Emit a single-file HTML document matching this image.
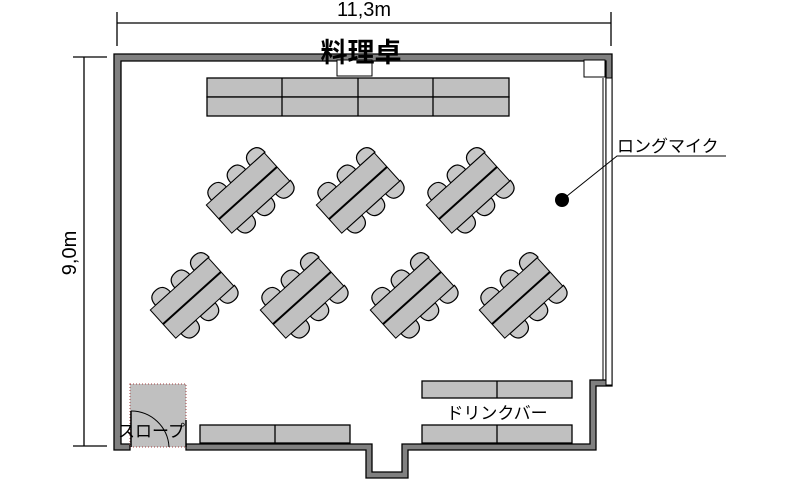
<!DOCTYPE html>
<html><head><meta charset="utf-8"><style>
body{margin:0;background:#fff;}
svg{display:block;font-family:"Liberation Sans","Noto Sans CJK JP",sans-serif;}
</style></head><body>
<svg width="800" height="490" viewBox="0 0 800 490" xmlns="http://www.w3.org/2000/svg">
<defs>
<g id="tg">
  <g fill="#c8c8c8" stroke="#000" stroke-width="1.2">
    <path d="M-32,-19 q0,-11 10,-11 q10,0 10,11z"/>
    <path d="M-6,-19 q0,-11 10,-11 q10,0 10,11z"/>
    <path d="M20,-19 q0,-11 10,-11 q10,0 10,11z"/>
    <path d="M-32,19 q0,11 10,11 q10,0 10,-11z"/>
    <path d="M-6,19 q0,11 10,11 q10,0 10,-11z"/>
    <path d="M20,19 q0,11 10,11 q10,0 10,-11z"/>
  </g>
  <rect x="-39" y="-19" width="78" height="38" fill="#c0c0c0" stroke="#000" stroke-width="1"/>
  <line x1="-39" y1="0" x2="39" y2="0" stroke="#000" stroke-width="2"/>
</g>
</defs>

<g stroke="#000" stroke-width="1.3">
<line x1="117" y1="23" x2="611" y2="23"/>
<line x1="117" y1="12" x2="117" y2="46"/>
<line x1="611" y1="12" x2="611" y2="46"/>
<line x1="84" y1="57" x2="84" y2="446"/>
<line x1="73" y1="57" x2="107" y2="57"/>
<line x1="73" y1="446" x2="107" y2="446"/>
</g>
<text x="364" y="16" font-size="20" text-anchor="middle">11,3m</text>
<text transform="translate(76,253) rotate(-90)" font-size="20" text-anchor="middle">9,0m</text>

<g fill="#808080" stroke="#000" stroke-width="1.3">
<polygon points="114,54 612,54 612,386 596,386 596,450 408,450 408,478 366,478 366,450 186,450 186,444 372,444 372,472 402,472 402,444 590,444 590,380 606,380 606,61 121,61 121,444 130,444 130,450 114,450"/>
</g>
<rect x="584" y="60" width="21" height="17" fill="#fff" stroke="#000" stroke-width="1"/>
<rect x="606" y="78" width="6" height="307" fill="#fff" stroke="#000" stroke-width="1"/>
<line x1="603" y1="78" x2="603" y2="380" stroke="#000" stroke-width="1"/>

<rect x="337" y="60" width="35" height="16" fill="#fff" stroke="#000" stroke-width="1"/>
<text x="361" y="62" font-size="27" font-weight="bold" text-anchor="middle">料理卓</text>

<g fill="#c0c0c0" stroke="#000" stroke-width="1.3">
<rect x="207" y="78" width="302" height="19"/>
<rect x="207" y="97" width="302" height="19"/>
</g>
<g stroke="#000" stroke-width="1.3">
<line x1="282" y1="78" x2="282" y2="116"/>
<line x1="358" y1="78" x2="358" y2="116"/>
<line x1="433" y1="78" x2="433" y2="116"/>
</g>

<use href="#tg" transform="translate(248,193) rotate(-42)"/>
<use href="#tg" transform="translate(358,193) rotate(-42)"/>
<use href="#tg" transform="translate(468,193) rotate(-42)"/>
<use href="#tg" transform="translate(192,298) rotate(-42)"/>
<use href="#tg" transform="translate(302,298) rotate(-42)"/>
<use href="#tg" transform="translate(412,298) rotate(-42)"/>
<use href="#tg" transform="translate(521,298) rotate(-42)"/>

<circle cx="562" cy="200" r="7" fill="#000"/>
<polyline points="562,200 617,156 726,156" fill="none" stroke="#000" stroke-width="1"/>
<text x="617" y="152" font-size="17">ロングマイク</text>

<g fill="#c0c0c0" stroke="#000" stroke-width="1.3">
<rect x="422" y="381" width="150" height="17"/>
<rect x="422" y="425" width="150" height="18"/>
<rect x="200" y="425" width="150" height="18"/>
</g>
<g stroke="#000" stroke-width="1.3">
<line x1="497" y1="381" x2="497" y2="398"/>
<line x1="497" y1="425" x2="497" y2="443"/>
<line x1="275" y1="425" x2="275" y2="443"/>
</g>
<text x="497" y="419" font-size="17" text-anchor="middle">ドリンクバー</text>

<rect x="130" y="384" width="56" height="63" fill="#c0c0c0" stroke="#a04040" stroke-width="1" stroke-dasharray="1,2"/>
<path d="M131,411 A38,38 0 0 1 169,447" fill="none" stroke="#000" stroke-width="1"/>
<line x1="131" y1="411" x2="131" y2="447" stroke="#000" stroke-width="1.5"/>
<line x1="186" y1="420" x2="186" y2="447" stroke="#000" stroke-width="1.5"/>
<text x="118" y="437" font-size="17">スロープ</text>
</svg>
</body></html>
